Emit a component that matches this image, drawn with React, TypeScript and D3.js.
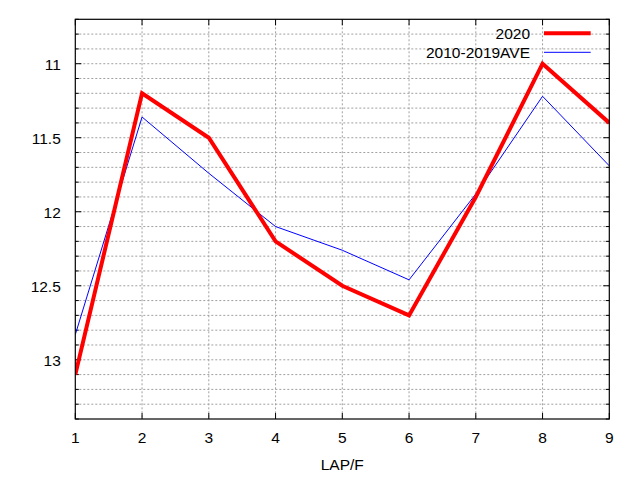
import React, { useEffect, useRef } from "react"
import * as d3 from "d3"

// data
const laps = [1, 2, 3, 4, 5, 6, 7, 8, 9]
const times2020 = [13.1, 11.2, 11.5, 12.2, 12.5, 12.7, 11.9, 11.0, 11.4]
const timesAve = [12.83, 11.36, 11.74, 12.1, 12.26, 12.46, 11.88, 11.22, 11.69]
const yTicks = [11, 11.5, 12, 12.5, 13]
const seriesNames = ["2020", "2010-2019AVE"]

const App = () => {
  const svgRef = useRef<SVGSVGElement>(null)

  useEffect(() => {
    const width = 640
    const height = 480
    const margins = { top: 19.3, right: 30.7, bottom: 61, left: 75.3 }
    const boundsWidth = width - margins.left - margins.right
    const boundsHeight = height - margins.top - margins.bottom
    const font = "'Liberation Sans', Arial, sans-serif"

    const svg = d3.select(svgRef.current)
    svg.selectAll("*").remove()

    const bounds = svg
      .append("g")
      .attr("transform", `translate(${margins.left},${margins.top})`)

    // scales
    const xScale = d3.scaleLinear().domain([1, 9]).range([0, boundsWidth])
    const yScale = d3.scaleLinear().domain([10.7, 13.4]).range([0, boundsHeight])

    const minorTicks = d3.range(107, 135).map((v) => v / 10)

    // grid
    const grid = bounds.append("g")
    grid
      .selectAll("line.hgrid")
      .data(minorTicks.filter((v) => v > 10.7 && v < 13.4))
      .join("line")
      .attr("x1", 0)
      .attr("x2", boundsWidth)
      .attr("y1", (d) => yScale(d))
      .attr("y2", (d) => yScale(d))
      .attr("stroke", "#a0a0a0")
      .attr("stroke-width", 1)
      .attr("stroke-dasharray", "2,2")
    grid
      .selectAll("line.vgrid")
      .data(laps.slice(1, -1))
      .join("line")
      .attr("x1", (d) => xScale(d))
      .attr("x2", (d) => xScale(d))
      .attr("y1", 0)
      .attr("y2", boundsHeight)
      .attr("stroke", "#a0a0a0")
      .attr("stroke-width", 1)
      .attr("stroke-dasharray", "2,2")

    // ticks (inward, mirrored)
    const ticks = bounds.append("g").attr("stroke", "black").attr("stroke-width", 1)
    minorTicks.forEach((v) => {
      const isMajor = yTicks.includes(v)
      const len = isMajor ? 6 : 3.5
      ticks.append("line").attr("x1", 0).attr("x2", len).attr("y1", yScale(v)).attr("y2", yScale(v))
      ticks
        .append("line")
        .attr("x1", boundsWidth)
        .attr("x2", boundsWidth - len)
        .attr("y1", yScale(v))
        .attr("y2", yScale(v))
    })
    laps.forEach((v) => {
      ticks.append("line").attr("x1", xScale(v)).attr("x2", xScale(v)).attr("y1", boundsHeight).attr("y2", boundsHeight - 6)
      ticks.append("line").attr("x1", xScale(v)).attr("x2", xScale(v)).attr("y1", 0).attr("y2", 6)
    })

    // tick labels
    bounds
      .append("g")
      .selectAll("text")
      .data(yTicks)
      .join("text")
      .attr("x", -14.5)
      .attr("y", (d) => yScale(d) + 6)
      .attr("text-anchor", "end")
      .attr("font-family", font)
      .attr("font-size", 15.5)
      .text((d) => String(d))
    bounds
      .append("g")
      .selectAll("text")
      .data(laps)
      .join("text")
      .attr("x", (d) => xScale(d))
      .attr("y", boundsHeight + 24)
      .attr("text-anchor", "middle")
      .attr("font-family", font)
      .attr("font-size", 15.5)
      .text((d) => String(d))

    // x axis title
    bounds
      .append("text")
      .attr("x", boundsWidth / 2)
      .attr("y", boundsHeight + 51.5)
      .attr("text-anchor", "middle")
      .attr("font-family", font)
      .attr("font-size", 15.5)
      .text("LAP/F")

    // lines
    svg
      .append("defs")
      .append("clipPath")
      .attr("id", "plot-clip")
      .append("rect")
      .attr("width", boundsWidth)
      .attr("height", boundsHeight)

    const lineGen = (values: number[]) =>
      d3
        .line<number>()
        .x((_, i) => xScale(laps[i]))
        .y((d) => yScale(d))(values)

    const series = [
      { values: timesAve, color: "#0000ff", width: 1 },
      { values: times2020, color: "#ff0000", width: 4 },
    ]
    const plot = bounds.append("g").attr("clip-path", "url(#plot-clip)")
    series.forEach((s) => {
      plot
        .append("path")
        .attr("d", lineGen(s.values))
        .attr("fill", "none")
        .attr("stroke", s.color)
        .attr("stroke-width", s.width)
        .attr("stroke-linejoin", "miter")
    })

    // frame
    bounds
      .append("rect")
      .attr("width", boundsWidth)
      .attr("height", boundsHeight)
      .attr("fill", "none")
      .attr("stroke", "black")
      .attr("stroke-width", 1.2)

    // legend
    const legend = svg.append("g")
    const legendItems = [
      { name: seriesNames[0], color: "#ff0000", width: 4 },
      { name: seriesNames[1], color: "#0000ff", width: 1 },
    ]
    legendItems.forEach((item, i) => {
      const y = 33.3 + i * 19
      legend
        .append("text")
        .attr("x", 530)
        .attr("y", y + 5.5)
        .attr("text-anchor", "end")
        .attr("font-family", font)
        .attr("font-size", 15.5)
        .text(item.name)
      legend
        .append("line")
        .attr("x1", 544)
        .attr("x2", 590.7)
        .attr("y1", y)
        .attr("y2", y)
        .attr("stroke", item.color)
        .attr("stroke-width", item.width)
    })
  }, [])

  return (
    <svg
      ref={svgRef}
      width={640}
      height={480}
      style={{ position: "absolute", left: 0, top: 0, background: "white" }}
    />
  )
}

export default App
